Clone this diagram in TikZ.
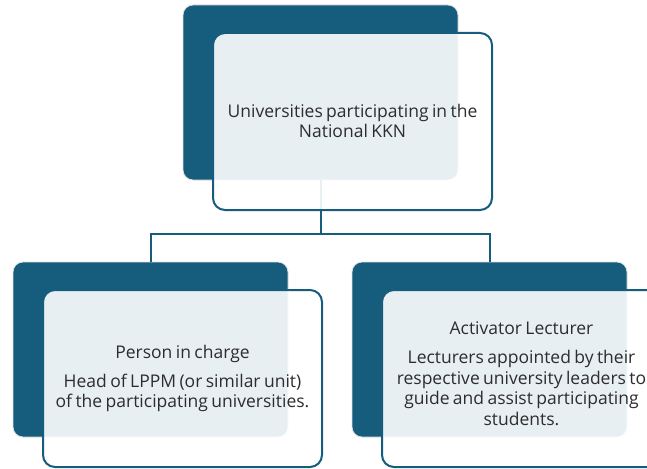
\documentclass[tikz,border=0pt]{standalone}
\usepackage{fontspec}
\setmainfont{Open Sans}[WordSpace=0.75]
\definecolor{tealdark}{RGB}{22,92,125}
\definecolor{textgray}{RGB}{45,45,45}
\begin{document}
\begin{tikzpicture}[x=1pt,y=-1pt,
  darkbox/.style={draw=black!12, line width=0.8pt, fill=tealdark, rounded corners=10pt,
    minimum width=275pt, minimum height=175pt, inner sep=0pt, outer sep=0pt},
  lightbox/.style={draw=tealdark, line width=2pt, fill=white, fill opacity=0.9,
    rounded corners=12pt, minimum width=279pt, minimum height=177pt, inner sep=0pt, outer sep=0pt},
  boxtext/.style={align=center, text=textgray, inner sep=0pt, font=\fontsize{17.5}{20.5}\selectfont},
  link/.style={draw=tealdark, line width=2pt}]
\useasboundingbox (0,0) rectangle (647,468);
% dark back boxes
\node[darkbox] (topd) at (320.5,92.5) {};
\node[darkbox] (leftd) at (150.5,349.5) {};
\node[darkbox] (rightd) at (489.5,349.5) {};
% connectors
\coordinate (bus) at (320.5,233.5);
\draw[link] (topd.south) -- (bus);
\draw[link] (bus) -| (leftd.north);
\draw[link] (bus) -| (rightd.north);
% light front boxes
\node[lightbox] (topl) at (352.5,121.5) {};
\node[lightbox] (leftl) at (182.5,378.5) {};
\node[lightbox] (rightl) at (521.5,378.5) {};
% texts
\node[boxtext] (topt) at ([yshift=0.5pt]topl.center) {Universities participating in the\\ National KKN};
\node[boxtext] (leftt) at (leftl.center) {Person in charge\\[8.5pt] Head of LPPM (or similar unit)\\ of the participating universities.};
\node[boxtext] (rightt) at ([yshift=5pt]rightl.center) {Activator Lecturer\\[8.5pt] Lecturers appointed by their\\ respective university leaders to\\ guide and assist participating\\ students.};
\end{tikzpicture}
\end{document}
